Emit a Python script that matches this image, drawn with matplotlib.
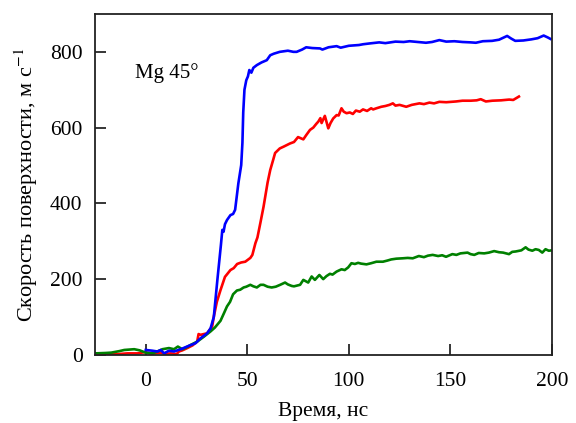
import matplotlib
matplotlib.use("Agg")
import matplotlib.pyplot as plt

plt.rcParams['font.family'] = ['Liberation Serif', 'DejaVu Serif']
plt.rcParams['mathtext.fontset'] = 'stix'

# --- data (time in ns, velocity in m/s) ---
blue_t = [0, 3.3, 5.7, 7.4, 9, 11.4, 13.9, 17.2, 21.2, 24.5, 27, 30.2, 31.9, 33.5, 35.3, 37, 37.7, 38.3,
          39, 40, 41.7, 43, 44, 45.6, 47, 47.6, 48, 48.6, 49.5, 50.3, 51, 52, 53, 54.7, 57, 59.6, 61.3, 63,
          66, 70, 72.7, 74.3, 77, 79, 82, 85.8, 87, 90, 94, 96, 100, 105, 107, 110, 115, 118, 123, 127,
          130, 134, 138, 141, 144.6, 148, 152, 156, 160, 162.6, 166, 170.6, 174, 178, 180, 182, 186, 190,
          193, 196, 198, 199.4]
blue_v = [13, 11, 9, 13, 4, 11, 9, 15, 24, 31, 44, 57, 70, 100, 200, 290, 330, 325,
          345, 356, 369, 372, 383, 453, 501, 560, 640, 700, 725, 735, 752, 745, 758, 765, 772, 778, 791, 795,
          800, 803, 800, 800, 806, 812, 810, 809, 806, 812, 815, 811, 816, 818, 820, 822, 825, 823, 827, 826,
          828, 826, 824, 826, 831, 827, 828, 826, 825, 824, 828, 829, 832, 842, 835, 829, 830, 833,
          836, 843, 838, 834]

red_t = [-25, -20, -14, -9, -4, -0.8, 2.5, 5, 7.4, 10, 12.3, 15.2, 16.3, 18, 20.4, 23, 25.3, 26, 27,
         30.2, 32.7, 33.5, 35, 36.8, 39, 41.7, 43.3, 45, 47, 49, 51.5, 52.5, 54, 55, 56.5, 58, 60, 61.3,
         62.7, 63.7, 66, 68, 71, 73, 75, 77.6, 79, 80.9, 82.5, 84, 85, 86, 86.6, 88.2, 89.9, 91, 92.3,
         94, 95, 96.4, 97.5, 98.9, 100.5, 102, 103.5, 105.4, 107, 109, 111, 112, 113.6, 116, 118, 120,
         121.7, 123, 125, 128.3, 131, 134.8, 137, 139.7, 142, 144.6, 148, 152.8, 156, 160, 163, 165,
         167.5, 170.7, 175, 179, 181, 183.8]
red_v = [3, 3, 2, 4, 4, 7, 4, 5, 6, 3, 4, 2, 9, 12, 18, 25, 35, 55, 53,
         57, 75, 101, 140, 171, 206, 224, 229, 240, 244, 246, 256, 264, 295, 310, 350, 391, 455, 488,
         514, 533, 545, 550, 558, 562, 575, 569, 580, 594, 600, 610, 616, 625, 612, 631, 598, 612, 624,
         633, 632, 651, 642, 638, 640, 636, 645, 642, 648, 644, 651, 648, 651, 655, 657, 660,
         664, 658, 660, 655, 660, 664, 662, 666, 664, 668, 667, 669, 671, 671, 672, 675,
         669, 671, 672, 674, 673, 682]

green_t = [-25, -20, -17, -13, -10.6, -5.7, -3, -1.6, 0, 3.3, 5.7, 8.2, 11.4, 13.9, 15.8, 18, 20, 22,
           25.3, 28.6, 31.9, 34, 36.8, 38.5, 40, 41.5, 43, 44.9, 46.5, 48.2, 49.5, 51.5, 53, 54.7, 56.5,
           58, 60, 62, 64, 66.2, 68.6, 70, 71.9, 73, 74.5, 76, 77.6, 80, 81.7, 83.3, 85.5, 87.4, 89, 90.7,
           92, 94, 96.4, 98, 99.7, 101.3, 103, 104.6, 106, 108.7, 111, 113.6, 116.8, 119, 120.9, 123.4,
           126.6, 129, 131.5, 134.5, 137, 139, 141.3, 144, 146, 147.9, 151, 153, 155, 158.5, 160, 161.8,
           164, 166.7, 169, 171.6, 174, 176, 178.9, 180.5, 182.2, 185, 187.1, 188.5, 190.4, 192, 193.6,
           195.3, 196.9, 198.5, 200]
green_v = [4, 5, 6, 10, 13, 15, 12, 9, 6, 4, 9, 15, 18, 15, 22, 15, 20, 26,
           35, 48, 62, 72, 90, 110, 128, 140, 160, 170, 172, 178, 180, 185, 181, 178, 185,
           185, 180, 178, 180, 185, 191, 186, 182, 181, 183, 185, 198, 191, 207, 198, 211, 200, 208, 214,
           212, 220, 226, 224, 231, 242, 240, 243, 241, 239, 242, 246, 246, 249, 252, 254,
           255, 256, 255, 261, 258, 262, 264, 261, 263, 259, 266, 264, 268, 270, 266, 264,
           269, 268, 270, 274, 271, 270, 266, 272, 273, 276, 284, 278, 275, 279, 277,
           270, 279, 275, 276]

x_ticks = [0, 50, 100, 150, 200]
y_ticks = [0, 200, 400, 600, 800]

fig = plt.figure(figsize=(5.76, 4.23), dpi=100)
ax = fig.add_axes([0.165, 0.161, 0.793, 0.806])

ax.plot(red_t, red_v, color='#ff0000', lw=1.9)
ax.plot(green_t, green_v, color='#008000', lw=1.9)
ax.plot(blue_t, blue_v, color='#0000ff', lw=1.9)

ax.set_xlim(-25, 200)
ax.set_ylim(0, 900)
ax.set_xticks(x_ticks)
ax.set_yticks(y_ticks)
ax.tick_params(direction='in', length=8, width=1.1, labelsize=15.5,
               top=False, right=False)
ax.tick_params(axis='x', pad=12)
ax.tick_params(axis='y', pad=9)
for s in ax.spines.values():
    s.set_linewidth(1.3)
    s.set_color('#222222')

ax.set_xlabel('Время, нс', fontsize=15.5, labelpad=8)
ax.set_ylabel('Скорость поверхности, м с$^{-1}$', fontsize=16, labelpad=7)
ax.text(-5.5, 745, 'Mg 45°', fontsize=15, va='center', ha='left')

fig.savefig('out.png', dpi=100)
